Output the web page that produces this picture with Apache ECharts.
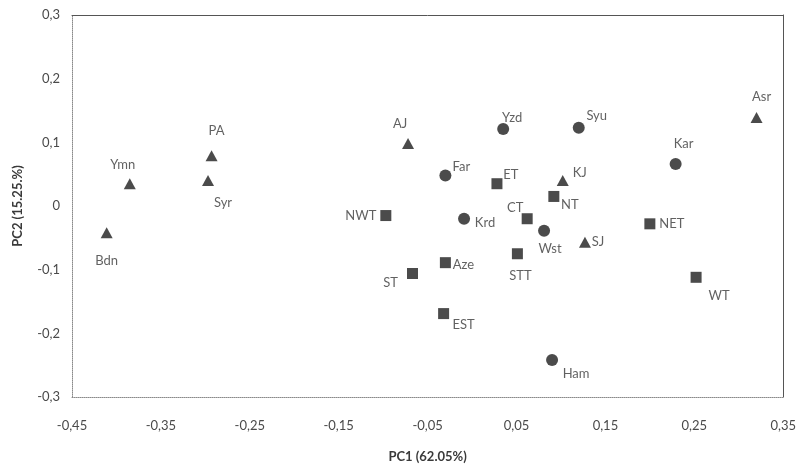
<!DOCTYPE html>
<html>
<head>
<meta charset="utf-8">
<script src="https://cdn.jsdelivr.net/npm/echarts@6/dist/echarts.min.js"></script>
<style>
html,body{margin:0;padding:0;background:#fff;}
#chart{width:799px;height:468px;}
</style>
</head>
<body>
<div id="chart"></div>
<script>
// ---- Data ----
var triangleNames = ['Ymn', 'PA', 'Syr', 'Bdn', 'AJ', 'Asr', 'KJ', 'SJ'];
var triangleX     = [-0.385, -0.293, -0.297, -0.411, -0.072, 0.320, 0.102, 0.127];
var triangleY     = [0.035, 0.079, 0.040, -0.042, 0.098, 0.139, 0.040, -0.057];

var circleNames = ['Yzd', 'Syu', 'Kar', 'Far', 'Krd', 'Wst', 'Ham'];
var circleX     = [0.035, 0.120, 0.229, -0.030, -0.009, 0.081, 0.090];
var circleY     = [0.121, 0.123, 0.066, 0.048, -0.020, -0.039, -0.242];

var squareNames = ['NWT', 'ET', 'NT', 'CT', 'NET', 'STT', 'Aze', 'ST', 'EST', 'WT'];
var squareX     = [-0.097, 0.028, 0.092, 0.062, 0.200, 0.051, -0.030, -0.067, -0.032, 0.252];
var squareY     = [-0.015, 0.035, 0.015, -0.020, -0.028, -0.075, -0.089, -0.106, -0.169, -0.112];

var xTicks = ['-0,45', '-0,35', '-0,25', '-0,15', '-0,05', '0,05', '0,15', '0,25', '0,35'];
var yTicks = ['-0,3', '-0,2', '-0,1', '0', '0,1', '0,2', '0,3'];

var xTitle = 'PC1 (62.05%)';
var yTitle = 'PC2 (15.25.%)';

// ---- Label placement (style, pixel offsets from marker centre) ----
var labelOffsets = {
  Ymn: [-7, -19], PA: [5, -25], Syr: [15, 22], Bdn: [0, 28], AJ: [-8, -20],
  Asr: [5, -21], KJ: [17, -8], SJ: [13, 0],
  Yzd: [9, -11], Syu: [18, -12], Kar: [8, -20], Far: [16, -9], Krd: [21, 4],
  Wst: [6, 18], Ham: [24, 14],
  NWT: [-25, 0], ET: [14, -9], NT: [16, 8], CT: [-12, -11], NET: [22, 0],
  STT: [3, 22], Aze: [18, 2], ST: [-22, 9], EST: [20, 11], WT: [23, 19]
};

var FONT = 'Lato, "Open Sans", sans-serif';
var MARK = '#1e1e1e';

function build(names, xs, ys) {
  return names.map(function (n, i) {
    return {
      name: n,
      value: [xs[i], ys[i]],
      label: {
        show: true,
        position: 'inside',
        offset: labelOffsets[n] || [0, -15],
        formatter: '{b}',
        color: '#3a3a3a',
        fontFamily: FONT,
        fontSize: 13,
        align: 'center',
        verticalAlign: 'middle'
      }
    };
  });
}

function fmt(list, min, step) {
  return function (v) {
    var idx = Math.round((v - min) / step);
    return list[idx] !== undefined ? list[idx] : '';
  };
}

var chart = echarts.init(document.getElementById('chart'), null, {renderer: 'canvas'});

var axisLabelStyle = {color: '#4a4a4a', fontFamily: FONT, fontSize: 13};

chart.setOption({
  animation: false,
  backgroundColor: '#ffffff',
  grid: {left: 72, right: 11, top: 15, bottom: 70, containLabel: false},
  xAxis: [{
    type: 'value', position: 'bottom',
    min: -0.45, max: 0.35, interval: 0.1,
    axisLine: {show: true, onZero: false, lineStyle: {color: '#8a8a8a', type: 'dotted', width: 1}},
    axisTick: {show: false},
    splitLine: {show: false},
    axisLabel: Object.assign({margin: 22, formatter: fmt(xTicks, -0.45, 0.1)}, axisLabelStyle),
    name: xTitle, nameLocation: 'middle', nameGap: 53,
    nameTextStyle: {fontFamily: FONT, fontSize: 13, fontWeight: 'bold', color: '#3a3a3a'}
  }, {
    type: 'value', position: 'top',
    min: -0.45, max: 0.35, interval: 0.1,
    axisLine: {show: true, onZero: false, lineStyle: {color: '#555', width: 1}},
    axisTick: {show: false}, splitLine: {show: false}, axisLabel: {show: false}
  }],
  yAxis: [{
    type: 'value', position: 'left',
    min: -0.3, max: 0.3, interval: 0.1,
    axisLine: {show: true, onZero: false, lineStyle: {color: '#8a8a8a', type: 'dotted', width: 1}},
    axisTick: {show: false},
    splitLine: {show: false},
    axisLabel: Object.assign({margin: 12, formatter: fmt(yTicks, -0.3, 0.1)}, axisLabelStyle),
    name: yTitle, nameLocation: 'middle', nameGap: 48,
    nameTextStyle: {fontFamily: FONT, fontSize: 13, fontWeight: 'bold', color: '#3a3a3a'}
  }, {
    type: 'value', position: 'right',
    min: -0.3, max: 0.3, interval: 0.1,
    axisLine: {show: true, onZero: false, lineStyle: {color: '#555', width: 1}},
    axisTick: {show: false}, splitLine: {show: false}, axisLabel: {show: false}
  }],
  series: [{
    type: 'scatter', name: 'triangle', xAxisIndex: 0, yAxisIndex: 0,
    symbol: 'triangle', symbolSize: [12, 11],
    itemStyle: {color: MARK},
    data: build(triangleNames, triangleX, triangleY)
  }, {
    type: 'scatter', name: 'circle', xAxisIndex: 0, yAxisIndex: 0,
    symbol: 'circle', symbolSize: 12,
    itemStyle: {color: MARK},
    data: build(circleNames, circleX, circleY)
  }, {
    type: 'scatter', name: 'square', xAxisIndex: 0, yAxisIndex: 0,
    symbol: 'rect', symbolSize: 11,
    itemStyle: {color: MARK},
    data: build(squareNames, squareX, squareY)
  }]
});
</script>
</body>
</html>
